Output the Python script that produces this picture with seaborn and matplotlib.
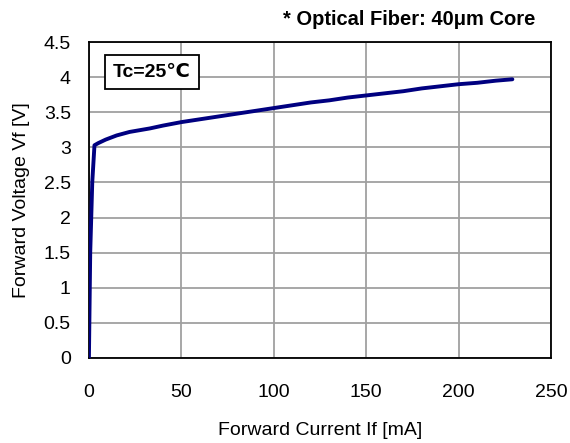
import matplotlib
matplotlib.use("Agg")
import matplotlib.pyplot as plt
import seaborn as sns
import pandas as pd

current_ma = [0, 0.7, 1.8, 3, 5, 9, 15, 22, 33, 40, 50, 60, 70, 80, 90, 100,
              110, 120, 130, 140, 150, 160, 170, 180, 190, 200, 210, 220, 229]
voltage_v = [0, 1.5, 2.5, 3.03, 3.06, 3.11, 3.17, 3.22, 3.27, 3.31, 3.36, 3.40,
             3.44, 3.48, 3.52, 3.56, 3.60, 3.64, 3.67, 3.71, 3.74, 3.77, 3.80,
             3.84, 3.87, 3.90, 3.92, 3.95, 3.97]
x_ticks = [0, 50, 100, 150, 200, 250]
y_ticks = [0, 0.5, 1, 1.5, 2, 2.5, 3, 3.5, 4, 4.5]
y_tick_labels = ["0", "0.5", "1", "1.5", "2", "2.5", "3", "3.5", "4", "4.5"]

sns.set_theme(style="white")
plt.rcParams['font.family'] = ['Liberation Sans', 'DejaVu Sans']

df = pd.DataFrame({"If": current_ma, "Vf": voltage_v})

fig = plt.figure(figsize=(5.7, 4.43), dpi=100)
ax = fig.add_axes([0.156, 0.192, 0.811, 0.713])

sns.lineplot(data=df, x="If", y="Vf", ax=ax, color="#000080", linewidth=2.8,
             zorder=3, estimator=None, sort=False)

ax.set_xlim(0, 250)
ax.set_ylim(0, 4.5)
ax.set_xticks(x_ticks)
ax.set_yticks(y_ticks)
ax.set_yticklabels(y_tick_labels)
ax.grid(True, color="#a0a0a0", linewidth=1.3)
ax.set_axisbelow(True)
for s in ax.spines.values():
    s.set_color("black")
    s.set_linewidth(1.3)
ax.tick_params(axis="both", length=0, labelsize=14, colors="black")
ax.tick_params(axis="y", pad=13)
ax.tick_params(axis="x", pad=19)
ax.set_xlabel("Forward Current If [mA]", fontsize=14, labelpad=15, color="black")
ax.set_ylabel("Forward Voltage Vf [V]", fontsize=14, labelpad=10, color="black")

fig.text(0.939, 0.955, "* Optical Fiber: 40μm Core", ha="right", va="center",
         fontsize=14.5, fontweight="bold", color="black")

ax.text(0.136, 0.905, "Tc=25℃", transform=ax.transAxes, ha="center", va="center",
        fontsize=14, fontweight="bold", color="black",
        bbox=dict(boxstyle="square,pad=0.42", fc="white", ec="black", lw=1.3))

fig.savefig("out.png", dpi=100)
